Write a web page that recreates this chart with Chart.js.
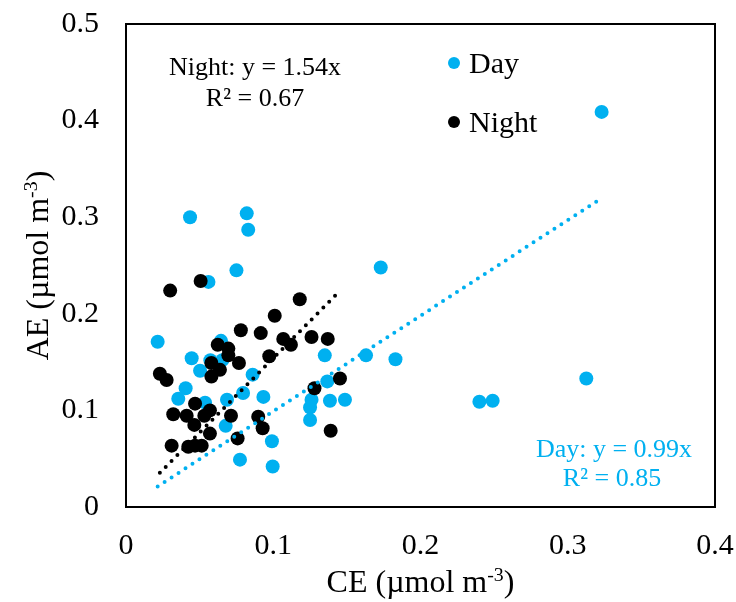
<!DOCTYPE html>
<html>
<head>
<meta charset="utf-8">
<script src="https://cdn.jsdelivr.net/npm/chart.js@4.4.0/dist/chart.umd.min.js"></script>
<style>
  html, body { margin: 0; padding: 0; background: #fff; }
  #chart { display: block; }
</style>
</head>
<body>
<canvas id="chart" width="736" height="602"></canvas>
<script>
// CE vs AE, daytime and night-time samples (umol m-3)
const dayCE = [0.0215, 0.0435, 0.082, 0.083, 0.075, 0.056, 0.0645, 0.0446, 0.0573, 0.0654,
  0.0503, 0.086, 0.0405, 0.0355, 0.0537, 0.0686, 0.0795, 0.0933, 0.0677, 0.0774,
  0.0991, 0.0996, 0.173, 0.135, 0.163, 0.183, 0.1367, 0.126, 0.1385, 0.1487,
  0.125, 0.125, 0.240, 0.249, 0.3126, 0.323];
const dayAE = [0.171, 0.300, 0.304, 0.287, 0.245, 0.233, 0.172, 0.154, 0.152, 0.152,
  0.141, 0.137, 0.123, 0.112, 0.108, 0.111, 0.118, 0.114, 0.084, 0.049,
  0.068, 0.042, 0.248, 0.157, 0.157, 0.153, 0.130, 0.111, 0.110, 0.111,
  0.103, 0.090, 0.109, 0.110, 0.133, 0.409];

const nightCE = [0.0507, 0.030, 0.118, 0.101, 0.078, 0.0915, 0.1068, 0.112, 0.126, 0.137,
  0.0623, 0.0695, 0.0695, 0.0973, 0.058, 0.0767, 0.0638, 0.023, 0.0276, 0.058,
  0.1453, 0.128, 0.0469, 0.0321, 0.0412, 0.0532, 0.057, 0.0713, 0.0898, 0.0464,
  0.0928, 0.057, 0.0758, 0.031, 0.0423, 0.0469, 0.0514, 0.139];
const nightAE = [0.234, 0.224, 0.215, 0.198, 0.183, 0.180, 0.174, 0.168, 0.176, 0.174,
  0.168, 0.164, 0.157, 0.156, 0.149, 0.149, 0.142, 0.138, 0.1315, 0.135,
  0.133, 0.123, 0.107, 0.096, 0.0945, 0.0945, 0.100, 0.0945, 0.0935, 0.085,
  0.0815, 0.076, 0.071, 0.0635, 0.0624, 0.0635, 0.0635, 0.079];

// fitted lines through the origin
const daySlope = 0.99, dayR2 = 0.85;
const nightSlope = 1.54, nightR2 = 0.67;

const xTicks = [0, 0.1, 0.2, 0.3, 0.4];
const yTicks = [0, 0.1, 0.2, 0.3, 0.4, 0.5];

const BLUE = '#00B0F0';
const FONT = '"Liberation Serif", "Times New Roman", serif';

const toPoints = (xs, ys) => xs.map((x, i) => ({ x, y: ys[i] }));
const fitLine = (xs, k) => {
  const lo = Math.min(...xs), hi = Math.max(...xs);
  return [{ x: lo, y: k * lo }, { x: hi, y: k * hi }];
};

// draws text with a superscript part, centred on x
function drawSup(ctx, parts, x, y, size) {
  const widths = parts.map(p => {
    ctx.font = (p.sup ? size * 0.62 : size) + 'px ' + FONT;
    return ctx.measureText(p.t).width;
  });
  let cx = x - widths.reduce((s, w) => s + w, 0) / 2;
  parts.forEach((p, i) => {
    ctx.font = (p.sup ? size * 0.62 : size) + 'px ' + FONT;
    ctx.fillText(p.t, cx, p.sup ? y - size * 0.33 : y);
    cx += widths[i];
  });
}

const overlay = {
  id: 'overlay',
  afterDraw(chart) {
    const { ctx, chartArea: a } = chart;
    ctx.save();
    ctx.strokeStyle = '#000';
    ctx.lineWidth = 2;
    ctx.strokeRect(a.left, a.top, a.right - a.left, a.bottom - a.top);

    ctx.fillStyle = '#000';
    ctx.textAlign = 'left';
    ctx.textBaseline = 'alphabetic';

    // axis titles
    drawSup(ctx, [{ t: 'CE (\u00b5mol m' }, { t: '-3', sup: true }, { t: ')' }], (a.left + a.right) / 2, 592, 32);
    ctx.save();
    ctx.translate(48, (a.top + a.bottom) / 2);
    ctx.rotate(-Math.PI / 2);
    drawSup(ctx, [{ t: 'AE (\u00b5mol m' }, { t: '-3', sup: true }, { t: ')' }], 0, 0, 32);
    ctx.restore();

    // legend
    const legend = [['Day', BLUE, 63], ['Night', '#000', 122]];
    legend.forEach(([name, col, y]) => {
      ctx.fillStyle = col;
      ctx.beginPath();
      ctx.arc(454, y, 6, 0, Math.PI * 2);
      ctx.fill();
      ctx.fillStyle = '#000';
      ctx.font = '30px ' + FONT;
      ctx.fillText(name, 469, y + 10);
    });

    // regression labels
    ctx.textAlign = 'center';
    ctx.font = '26px ' + FONT;
    ctx.fillStyle = '#000';
    ctx.fillText('Night: y = ' + nightSlope.toFixed(2) + 'x', 255, 75);
    ctx.fillText('R\u00b2 = ' + nightR2.toFixed(2), 255, 106);
    ctx.fillStyle = BLUE;
    ctx.fillText('Day: y = ' + daySlope.toFixed(2) + 'x', 614, 457);
    ctx.fillText('R\u00b2 = ' + dayR2.toFixed(2), 612, 486);
    ctx.restore();
  }
};

const dotted = (color) => ({
  type: 'line',
  borderColor: color,
  borderWidth: 4,
  borderDash: [0, 8.3],
  borderCapStyle: 'round',
  pointRadius: 0,
  fill: false,
  order: 0,
});

new Chart(document.getElementById('chart'), {
  type: 'scatter',
  data: {
    datasets: [
      { ...dotted(BLUE), label: 'Day fit', data: fitLine(dayCE, daySlope) },
      { ...dotted('#000'), label: 'Night fit', data: fitLine(nightCE, nightSlope) },
      {
        label: 'Night', data: toPoints(nightCE, nightAE), order: 1,
        backgroundColor: '#000', borderWidth: 0, pointRadius: 7, pointHoverRadius: 7,
      },
      {
        label: 'Day', data: toPoints(dayCE, dayAE), order: 2,
        backgroundColor: BLUE, borderWidth: 0, pointRadius: 7, pointHoverRadius: 7,
      },
    ],
  },
  options: {
    responsive: false,
    animation: false,
    devicePixelRatio: 1,
    layout: { padding: { top: 24, right: 21, left: 0, bottom: 0 } },
    plugins: { legend: { display: false }, tooltip: { enabled: false } },
    scales: {
      x: {
        type: 'linear', min: 0, max: 0.4,
        afterBuildTicks: s => { s.ticks = xTicks.map(v => ({ value: v })); },
        afterFit: s => { s.height = 95; s.paddingLeft = 0; s.paddingRight = 0; },
        grid: { display: false, drawTicks: false },
        border: { display: false },
        ticks: { color: '#000', padding: 21, maxRotation: 0, font: { family: FONT, size: 30 } },
      },
      y: {
        type: 'linear', min: 0, max: 0.5,
        afterBuildTicks: s => { s.ticks = yTicks.map(v => ({ value: v })); },
        afterFit: s => { s.width = 126; s.paddingTop = 0; s.paddingBottom = 0; },
        grid: { display: false, drawTicks: false },
        border: { display: false },
        ticks: { color: '#000', padding: 27, font: { family: FONT, size: 30 } },
      },
    },
  },
  plugins: [overlay],
});
</script>
</body>
</html>
